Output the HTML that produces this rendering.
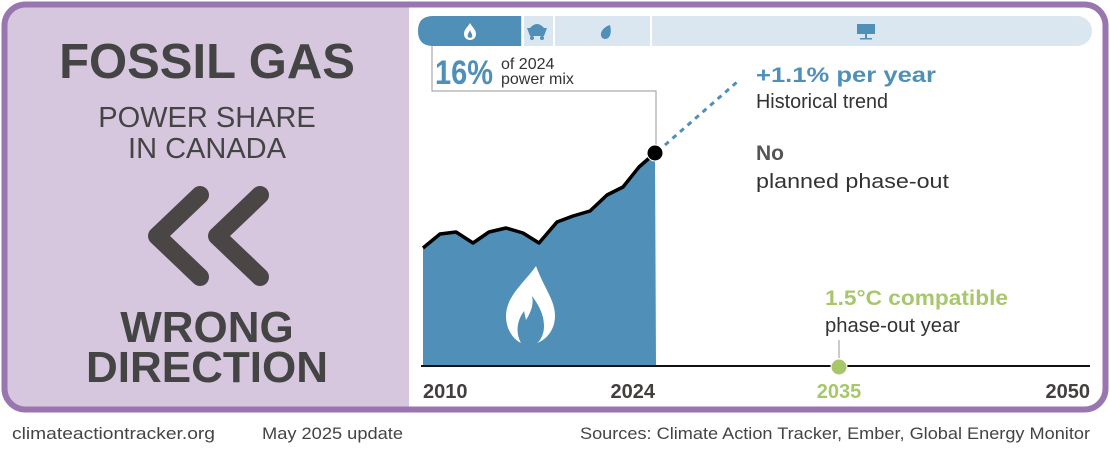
<!DOCTYPE html>
<html><head><meta charset="utf-8"><style>
body{margin:0;width:1110px;height:444px;overflow:hidden;background:#fff;font-family:"Liberation Sans",sans-serif}
</style></head><body>
<svg width="1110" height="444" viewBox="0 0 1110 444" xmlns="http://www.w3.org/2000/svg" font-family="Liberation Sans, sans-serif">
<rect x="0" y="0" width="1110" height="444" fill="#fff"/>
<path d="M409 5 H1086 Q1105 5 1105 24 V390 Q1105 409 1086 409 H409 Z" fill="#fff"/>
<path d="M25 5 H409 V409 H25 Q5 409 5 389 V25 Q5 5 25 5 Z" fill="#d6c7df"/>
<rect x="4.5" y="4.5" width="1101" height="405" rx="21" fill="none" stroke="#9a76b1" stroke-width="6"/>
<!-- left -->
<g fill="#444" text-anchor="middle">
<text x="207" y="78" font-size="49" font-weight="bold">FOSSIL GAS</text>
<text x="207" y="127" font-size="29">POWER SHARE</text>
<text x="207" y="158" font-size="29">IN CANADA</text>
<text x="207" y="342" font-size="44" font-weight="bold">WRONG</text>
<text x="207" y="382" font-size="44" font-weight="bold">DIRECTION</text>
</g>
<g fill="none" stroke="#4a4646" stroke-width="18" stroke-linecap="round" stroke-linejoin="round">
<polyline points="200,195 157,236 200,277"/>
<polyline points="260,195 217,236 260,277"/>
</g>
<!-- top bar -->
<rect x="418" y="16" width="674" height="30" rx="15" fill="#dbe7f0"/>
<path d="M433 16 H521 V46 H433 Q418 46 418 31 Q418 16 433 16 Z" fill="#4f8fb8"/>
<rect x="522" y="16" width="2" height="30" fill="#fff"/>
<rect x="553" y="16" width="2" height="30" fill="#fff"/>
<rect x="650" y="16" width="2" height="30" fill="#fff"/>
<path d="M470 23 C468 27 464 29 464 34 C464 38 467 40 470 40 C473 40 476 38 476 34 C476 30 473 28 470 23 Z" fill="#fff"/>
<path d="M470 30 C469 33 467 34 468 37 C469 38 471 38 472 37 C473 35 471 33 470 30Z" fill="#4f8fb8"/>
<path d="M527 28 H547 L544 36 H530 Z M530 28 Q537 20 544 28 Z" fill="#4f8fb8"/>
<circle cx="532" cy="38" r="2" fill="#4f8fb8"/><circle cx="542" cy="38" r="2" fill="#4f8fb8"/>
<path d="M610 25 C600 28 598 38 605 39 C610 39 612 33 610 25 Z" fill="#4f8fb8"/>
<rect x="857" y="24" width="18" height="10" fill="#4f8fb8"/><rect x="865" y="34" width="2" height="4" fill="#4f8fb8"/><rect x="860" y="38" width="12" height="1.5" fill="#4f8fb8"/>
<!-- callout -->
<polyline points="432,46 432,91 656,91 656,153" fill="none" stroke="#aaa" stroke-width="1.2"/>
<text x="435" y="84" font-size="34" font-weight="bold" fill="#4f8fb8" textLength="58" lengthAdjust="spacingAndGlyphs">16%</text>
<text x="501" y="69" font-size="16" fill="#333">of 2024</text>
<text x="501" y="84" font-size="16" fill="#333">power mix</text>
<!-- area -->
<path d="M423 366 L423 248 440 234 456 232 473 243 489 232 506 228 523 233 539 243 557 222 573 216 590 211 607 195 623 187 639 167 655 153 656 366 Z" fill="#4f8fb8"/>
<polyline points="423,248 440,234 456,232 473,243 489,232 506,228 523,233 539,243 557,222 573,216 590,211 607,195 623,187 639,167 655,153" fill="none" stroke="#000" stroke-width="3.5" stroke-linejoin="round"/>
<path d="M536 266 C525 282 506 296 506 316 C506 330 514 340 521 343 C516 334 516 322 524 311 L526 320 C531 312 534 304 532 296 C538 304 544 314 544 326 C544 334 541 340 537 343 C546 340 555 330 555 316 C555 300 545 290 536 266 Z" fill="#fff"/>
<line x1="665" y1="145" x2="737" y2="82" stroke="#4f8fb8" stroke-width="3" stroke-dasharray="5,5"/>
<circle cx="655" cy="153" r="8" fill="#000" stroke="#fff" stroke-width="1"/>
<!-- axis -->
<line x1="421" y1="366" x2="1090" y2="366" stroke="#111" stroke-width="2"/>
<line x1="839" y1="340" x2="839" y2="358" stroke="#aaa" stroke-width="1.2"/>
<circle cx="839" cy="367" r="8" fill="#a8c76b" stroke="#fff" stroke-width="1"/>
<g font-size="20" font-weight="bold" fill="#443f3f">
<text x="423" y="398">2010</text>
<text x="655" y="398" text-anchor="end">2024</text>
<text x="839" y="398" text-anchor="middle" fill="#a8c76b">2035</text>
<text x="1090" y="398" text-anchor="end">2050</text>
</g>
<!-- annotations -->
<text x="756" y="82" font-size="21" font-weight="bold" fill="#4f8fb8" textLength="180" lengthAdjust="spacingAndGlyphs">+1.1% per year</text>
<text x="756" y="108" font-size="20" fill="#333" textLength="132" lengthAdjust="spacingAndGlyphs">Historical trend</text>
<text x="756" y="160" font-size="21" font-weight="bold" fill="#555">No</text>
<text x="756" y="188" font-size="20" fill="#333" textLength="193" lengthAdjust="spacingAndGlyphs">planned phase-out</text>
<text x="825" y="305" font-size="21" font-weight="bold" fill="#a8c76b" textLength="183" lengthAdjust="spacingAndGlyphs">1.5°C compatible</text>
<text x="825" y="332" font-size="20" fill="#333" textLength="135" lengthAdjust="spacingAndGlyphs">phase-out year</text>
<!-- footer -->
<g font-size="17" fill="#444">
<text x="12" y="439" textLength="203" lengthAdjust="spacingAndGlyphs">climateactiontracker.org</text>
<text x="262" y="439" textLength="141" lengthAdjust="spacingAndGlyphs">May 2025 update</text>
<text x="580" y="439" textLength="510" lengthAdjust="spacingAndGlyphs">Sources: Climate Action Tracker, Ember, Global Energy Monitor</text>
</g>
</svg>
</body></html>
